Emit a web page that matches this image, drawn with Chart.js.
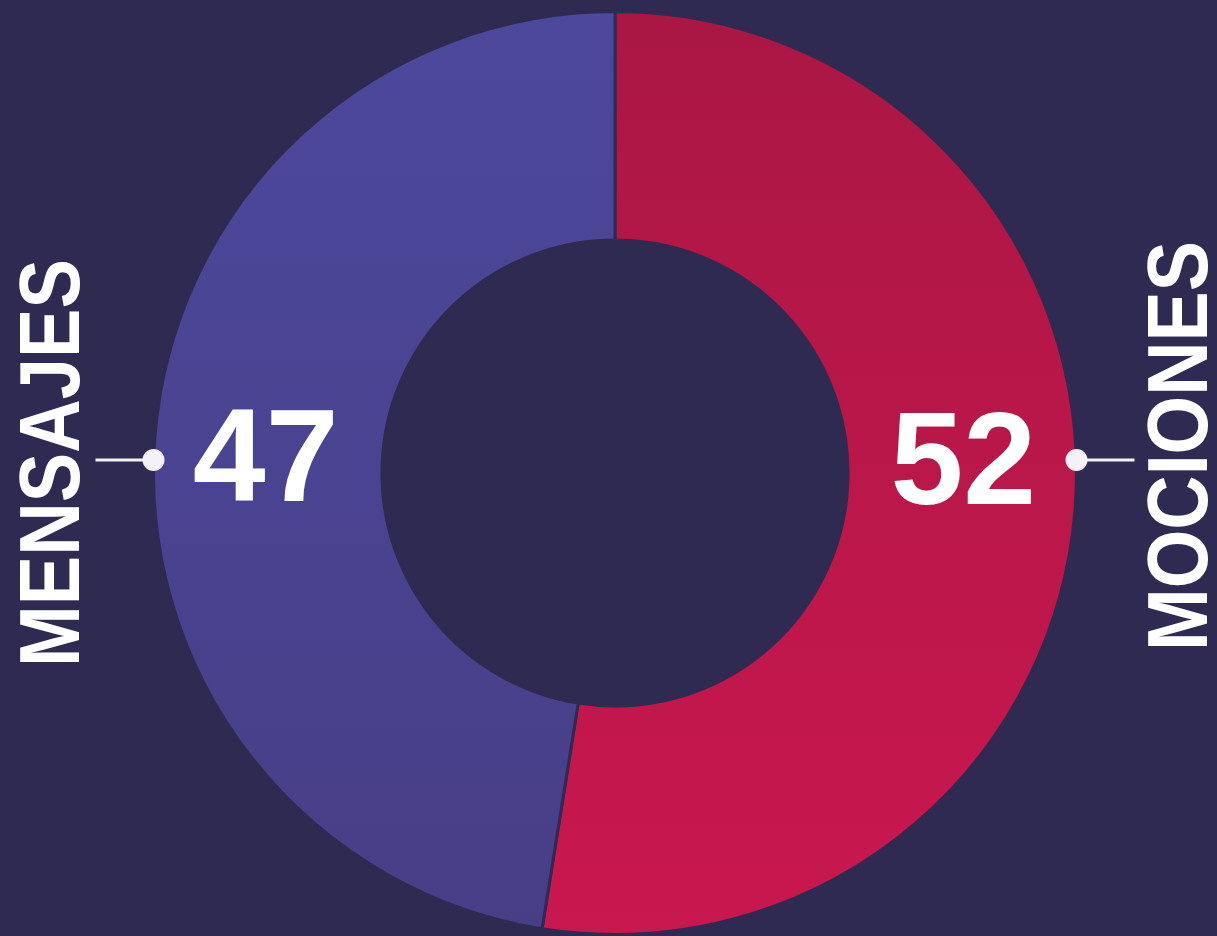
<!DOCTYPE html>
<html>
<head>
<meta charset="utf-8">
<script src="https://cdn.jsdelivr.net/npm/chart.js@4.4.0/dist/chart.umd.min.js"></script>
<style>
html,body{margin:0;padding:0;background:#2f2a51;overflow:hidden;}
#wrap{width:1217px;height:936px;position:relative;}
</style>
</head>
<body>
<div id="wrap"><canvas id="c" width="1217" height="936"></canvas></div>
<script>
const categories = ['MOCIONES', 'MENSAJES'];
const values = [52, 47];
const valueLabels = ['52', '47'];

const BG = '#2f2a51';
const colorStops = [
  ['#aa1744', '#c9174f'],  // Mociones (red)
  ['#4c489c', '#483e86']   // Mensajes (blue)
];

function gradFor(ctx, i) {
  const chart = ctx.chart;
  const area = chart.chartArea;
  if (!area) return colorStops[i][0];
  const g = chart.ctx.createLinearGradient(0, area.top, 0, area.bottom);
  g.addColorStop(0, colorStops[i][0]);
  g.addColorStop(1, colorStops[i][1]);
  return g;
}

const labelPlugin = {
  id: 'labelPlugin',
  afterDatasetsDraw(chart) {
    const ctx = chart.ctx;
    const meta = chart.getDatasetMeta(0);
    const arc = meta.data[0];
    const cx = arc.x, cy = arc.y;
    const outer = arc.outerRadius, inner = arc.innerRadius;
    const mid = (outer + inner) / 2;
    const dotY = cy - 13;
    ctx.save();
    // value labels
    ctx.fillStyle = '#ffffff';
    ctx.font = 'bold 131px "Liberation Sans", Arial, sans-serif';
    ctx.textAlign = 'center';
    ctx.textBaseline = 'alphabetic';
    // Mociones on right, Mensajes on left
    ctx.fillText(valueLabels[0], cx + mid + 1, cy + 31);
    ctx.fillText(valueLabels[1], cx - mid - 2, cy + 28);

    // connector lines and dots
    ctx.strokeStyle = '#f4f2f6';
    ctx.fillStyle = '#f4f2f6';
    ctx.lineWidth = 3;
    const lx = cx - outer, rx = cx + outer;
    ctx.beginPath();
    ctx.moveTo(lx - 58, dotY); ctx.lineTo(lx, dotY);
    ctx.moveTo(rx, dotY); ctx.lineTo(rx + 58, dotY);
    ctx.stroke();
    ctx.beginPath(); ctx.arc(lx, dotY, 11, 0, Math.PI * 2); ctx.fill();
    ctx.beginPath(); ctx.arc(rx, dotY, 11, 0, Math.PI * 2); ctx.fill();

    // rotated category labels
    ctx.fillStyle = '#ffffff';
    ctx.font = 'bold 86px "Liberation Sans", Arial, sans-serif';
    ctx.textAlign = 'center';
    ctx.textBaseline = 'middle';
    function vText(t, x, y, len) {
      const w = ctx.measureText(t).width;
      ctx.save();
      ctx.translate(x, y);
      ctx.rotate(-Math.PI / 2);
      ctx.scale(len / w, 1);
      ctx.fillText(t, 0, 4);
      ctx.restore();
    }
    vText(categories[1], lx - 102, 463, 408);
    vText(categories[0], rx + 103, 446, 410);
    ctx.restore();
  }
};

new Chart(document.getElementById('c'), {
  type: 'doughnut',
  data: {
    labels: categories,
    datasets: [{
      data: values,
      backgroundColor: (ctx) => gradFor(ctx, ctx.dataIndex),
      borderColor: BG,
      borderWidth: 3,
      hoverOffset: 0
    }]
  },
  options: {
    responsive: false,
    animation: false,
    cutout: '50.5%',
    layout: { padding: { top: 10, bottom: 0, left: 13, right: 0 } },
    plugins: {
      legend: { display: false },
      tooltip: { enabled: false }
    }
  },
  plugins: [labelPlugin]
});
</script>
</body>
</html>
